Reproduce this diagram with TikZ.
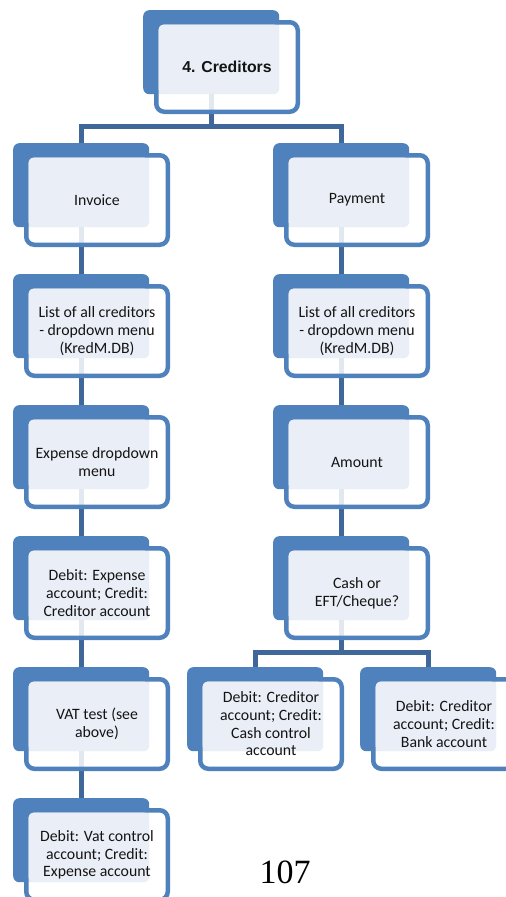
\documentclass[tikz,border=0pt]{standalone}
\usepackage{fontspec}
\setmainfont{Carlito}
\newfontfamily\headfont{Liberation Sans}
\newfontfamily\numfont{Liberation Serif}
\definecolor{accent}{HTML}{4F81BD}
\definecolor{linkblue}{HTML}{3F679A}
\definecolor{panelfill}{HTML}{EAEFF7}
\definecolor{ink}{HTML}{141414}

\tikzset{
  backbox/.style={rectangle, fill=accent, rounded corners=6pt,
    minimum width=136pt, minimum height=84pt, inner sep=0pt, anchor=north west},
  frontbox/.style={rectangle, draw=accent, line width=4.5pt, fill=white,
    fill opacity=0.85, draw opacity=1, rounded corners=8pt,
    minimum width=141.5pt, minimum height=89.5pt, inner sep=0pt},
  panel/.style={fill=panelfill, rounded corners=5pt},
  boxtext/.style={text=ink, align=center, inner sep=0pt,
    font=\fontsize{15.8}{17.7}\selectfont},
  conn/.style={draw=linkblue, line width=5pt, line join=miter},
}

% back tab of a step: name, x, y (top-left)
\newcommand\backunit[3]{%
  \node[backbox] (#1) at (#2,#3) {};
}
% framed face, panel and text of a step: name, x, y, text
\newcommand\frontunit[4]{%
  \node[frontbox] (#1f) at (#2+84,#3+57) {};
  \fill[panel] (#2+15.5,#3+14.5) rectangle (#2+136,#3+84);
  \node[boxtext] (#1t) at (#2+84,#3+57) {#4};
}

\begin{document}
\begin{tikzpicture}[x=1pt, y=-1pt]
\useasboundingbox (0,0) rectangle (506,897);
\clip (0,0) rectangle (506,897);

% back tabs
\backunit{cred}{143}{10}
\backunit{inv}{13}{143}
\backunit{listL}{13}{274}
\backunit{exp}{13}{405}
\backunit{debE}{13}{536}
\backunit{vat}{13}{667}
\backunit{debV}{13}{798}
\backunit{pay}{273}{143}
\backunit{listR}{273}{274}
\backunit{amt}{273}{405}
\backunit{cash}{273}{536}
\backunit{dcash}{187}{667}
\backunit{dbank}{360}{667}

% connectors
\draw[conn] (cred.south) -- (cred.south |- 0,126);
\draw[conn] (inv.north) |- (pay.north |- 0,126) -- (pay.north);
\draw[conn] (inv.south) -- (listL.north);
\draw[conn] (listL.south) -- (exp.north);
\draw[conn] (exp.south) -- (debE.north);
\draw[conn] (debE.south) -- (vat.north);
\draw[conn] (vat.south) -- (debV.north);
\draw[conn] (pay.south) -- (listR.north);
\draw[conn] (listR.south) -- (amt.north);
\draw[conn] (amt.south) -- (cash.north);
\draw[conn] (cash.south) -- (cash.south |- 0,652);
\draw[conn] (dcash.north) |- (dbank.north |- 0,652) -- (dbank.north);

% faces
\frontunit{cred}{143}{10}{\headfont\bfseries 4. Creditors}
\frontunit{inv}{13}{143}{Invoice}
\frontunit{listL}{13}{274}{List of all creditors\\- dropdown menu\\(KredM.DB)}
\frontunit{exp}{13}{405}{Expense dropdown\\menu}
\frontunit{debE}{13}{536}{Debit: Expense\\account; Credit:\\Creditor account}
\frontunit{vat}{13}{667}{VAT test (see\\above)}
\frontunit{debV}{13}{798}{Debit: Vat control\\account; Credit:\\Expense account}
\frontunit{pay}{273}{143}{Payment}
\frontunit{listR}{273}{274}{List of all creditors\\- dropdown menu\\(KredM.DB)}
\frontunit{amt}{273}{405}{Amount}
\frontunit{cash}{273}{536}{Cash or\\EFT/Cheque?}
\frontunit{dcash}{187}{667}{Debit: Creditor\\account; Credit:\\Cash control\\account}
\frontunit{dbank}{360}{667}{Debit: Creditor\\account; Credit:\\Bank account}

% page number
\node[font=\numfont\fontsize{34}{34}\selectfont, text=black, inner sep=0pt] (pagenum) at (285,872) {107};
\end{tikzpicture}
\end{document}
